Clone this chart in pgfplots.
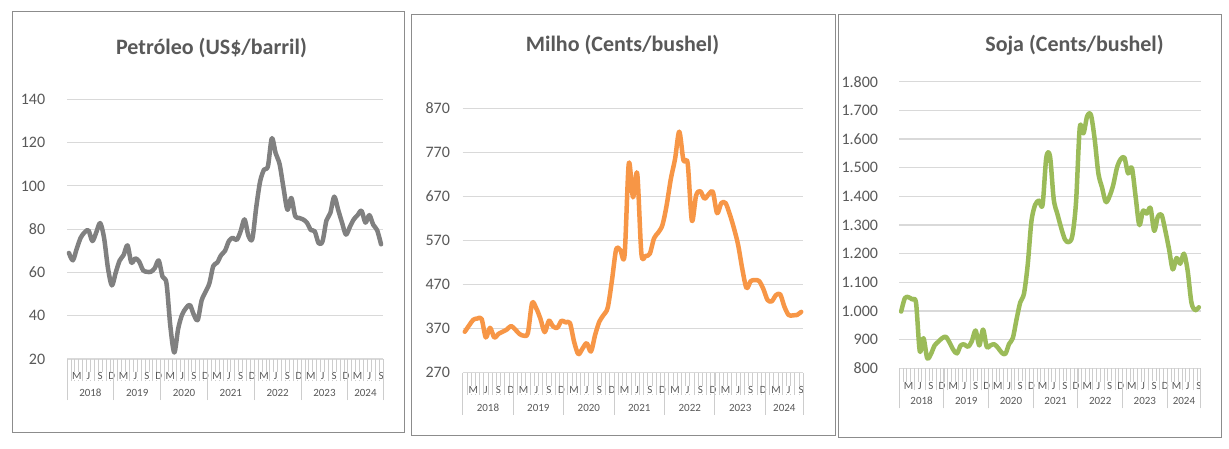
\documentclass[border=0pt]{standalone}
\usepackage{pgfplots}
\pgfplotsset{compat=1.18}
\usepackage{pgfplotstable}
\usepackage{fontspec}
\setmainfont{Carlito}
\definecolor{txt}{RGB}{89,89,89}
\definecolor{gridc}{RGB}{217,217,217}
\definecolor{catc}{RGB}{205,205,205}
\definecolor{oilc}{RGB}{128,128,128}
\definecolor{cornc}{RGB}{247,150,70}
\definecolor{soyc}{RGB}{155,187,89}
\definecolor{framec}{RGB}{140,140,140}

\pgfplotstableread{
i v
0 69
1 65.6
2 71
3 76
4 78.5
5 79.5
6 74.5
7 78.5
8 82.8
9 76
10 62
11 54
12 60
13 65.5
14 68
15 72.5
16 64.5
17 66.5
18 65
19 61
20 60.3
21 60.3
22 62
23 65.5
24 58
25 55
26 35
27 23
28 34
29 40.5
30 43.5
31 45
32 40.5
33 38
34 47
35 51
36 55
37 63
38 64.5
39 68
40 70
41 74.5
42 76
43 75
44 79
45 84.5
46 77
47 75.5
48 90
49 102
50 107.5
51 109
52 122
53 115
54 110
55 99
56 89
57 94.4
58 86
59 85.2
60 84.5
61 83
62 79.6
63 79
64 73.5
65 74.4
66 84
67 87.5
68 95
69 89
70 83
71 77.5
72 81
73 84.5
74 86.5
75 88.5
76 83
77 86.5
78 82
79 79.5
80 73
}\oiltab

\pgfplotstableread{
i v
0 363
1 377
2 390
3 393
4 392
5 350
6 372
7 350
8 358
9 363
10 368
11 376
12 368
13 358
14 354
15 360
16 428
17 416
18 392
19 362
20 388
21 375
22 372
23 388
24 384
25 383
26 340
27 312
28 325
29 337
30 318
31 356
32 386
33 401
34 418
35 480
36 550
37 548
38 537
39 745
40 668
41 722
42 540
43 535
44 540
45 575
46 588
47 605
48 650
49 710
50 755
51 817
52 752
53 745
54 615
55 672
56 682
57 665
58 675
59 680
60 632
61 655
62 655
63 630
64 598
65 560
66 505
67 462
68 478
69 480
70 478
71 460
72 435
73 432
74 446
75 448
76 420
77 401
78 400
79 401
80 408
}\corntab

\pgfplotstableread{
i v
0 998
1 1045
2 1048
3 1040
4 1028
5 860
6 905
7 835
8 850
9 880
10 893
11 905
12 910
13 890
14 865
15 852
16 880
17 883
18 875
19 895
20 932
21 880
22 935
23 875
24 880
25 884
26 872
27 855
28 850
29 885
30 905
31 970
32 1030
33 1060
34 1160
35 1312
36 1370
37 1385
38 1370
39 1535
40 1540
41 1390
42 1338
43 1290
44 1250
45 1240
46 1262
47 1380
48 1640
49 1620
50 1680
51 1684
52 1600
53 1480
54 1430
55 1380
56 1400
57 1440
58 1500
59 1530
60 1535
61 1480
62 1500
63 1400
64 1300
65 1350
66 1340
67 1360
68 1280
69 1330
70 1335
71 1280
72 1215
73 1145
74 1185
75 1165
76 1200
77 1140
78 1030
79 1003
80 1013
}\soytab

\tikzset{
  yl1/.style={text=txt, font=\fontsize{11}{12}\selectfont, yshift=-34pt},
  yl2/.style={text=txt, font=\fontsize{11}{12}\selectfont, yshift=-35.5pt},
  yl3/.style={text=txt, font=\fontsize{11}{12}\selectfont, yshift=-32.7pt},
  ttl/.style={text=txt, font=\fontsize{22}{24}\selectfont\bfseries},
}

\pgfplotsset{
  catax/.style={
    scale only axis,
    anchor=south west,
    xmin=-0.5, xmax=80.5,
    axis line style={draw=none},
    tick align=outside,
    tick pos=lower,
    ymajorgrids,
    major grid style={draw=gridc, line width=1.2pt},
    ytick style={draw=none},
    xtick={2,5,...,80},
    xticklabels={M,J,S,D,M,J,S,D,M,J,S,D,M,J,S,D,M,J,S,D,M,J,S,D,M,J,S},
    major x tick style={draw=none},
    minor xtick={-0.5,0.5,...,80.5},
    minor x tick style={draw=catc, line width=0.8pt},
    minor tick length=22pt,
    extra x ticks={-0.5,11.5,23.5,35.5,47.5,59.5,71.5,80.5},
    extra x tick labels={},
    extra x tick style={grid=none, tick pos=lower, major tick length=41pt, major x tick style={draw=catc, line width=1pt}},
    xticklabel style={font=\fontsize{11}{12}\selectfont, text=txt, anchor=center, yshift=-13pt, fill=white, inner sep=0.5pt},
    yticklabel style={font=\fontsize{16}{17}\selectfont, text=txt},
    /pgf/number format/assume math mode=true,
    scaled y ticks=false,
    clip=false,
  },
  serie/.style={line width=4.5pt, smooth, tension=0.5, line cap=round, line join=round, no markers},
}

\begin{document}
\begin{tikzpicture}[x=1pt,y=1pt]
\path[use as bounding box] (0,0) rectangle (1229,448);
\fill[white] (0,0) rectangle (1229,448);
% chart frames
\draw[framec, line width=1pt] (12,16) rectangle (404,436);
\draw[framec, line width=1pt] (411,13) rectangle (835,433);
\draw[framec, line width=1pt] (838,11) rectangle (1221,433);
% titles
\node[ttl] at (211.5,400.3) {Petróleo (US\$/barril)};
\node[ttl] at (622.5,403) {Milho (Cents/bushel)};
\node[ttl] at (1074.5,403) {Soja (Cents/bushel)};

% Panel 1
\begin{axis}[catax, at={(67pt,89pt)}, width=316pt, height=259.7pt,
  ymin=20, ymax=140, ytick={20,40,...,140},
  yticklabel style={xshift=-14pt}]
\addplot[serie, color=oilc] table[x=i, y=v] {\oiltab};
\node[yl1] at (axis cs:5.5,20) {2018};
\node[yl1] at (axis cs:17.5,20) {2019};
\node[yl1] at (axis cs:29.5,20) {2020};
\node[yl1] at (axis cs:41.5,20) {2021};
\node[yl1] at (axis cs:53.5,20) {2022};
\node[yl1] at (axis cs:65.5,20) {2023};
\node[yl1] at (axis cs:76,20) {2024};
\end{axis}

% Panel 2
\begin{axis}[catax, at={(462.7pt,75.3pt)}, width=340.6pt, height=264.4pt,
  ymin=270, ymax=870, ytick={270,370,...,870},
  yticklabel style={xshift=-5pt},
  extra x tick style={major tick length=42pt}]
\addplot[serie, color=cornc] table[x=i, y=v] {\corntab};
\node[yl2] at (axis cs:5.5,270) {2018};
\node[yl2] at (axis cs:17.5,270) {2019};
\node[yl2] at (axis cs:29.5,270) {2020};
\node[yl2] at (axis cs:41.5,270) {2021};
\node[yl2] at (axis cs:53.5,270) {2022};
\node[yl2] at (axis cs:65.5,270) {2023};
\node[yl2] at (axis cs:76,270) {2024};
\end{axis}

% Panel 3
\begin{axis}[catax, at={(899.3pt,79.7pt)}, width=301.4pt, height=286.6pt,
  ymin=800, ymax=1800, ytick={800,900,...,1800},
  yticklabel style={xshift=-13.5pt, /pgf/number format/.cd, 1000 sep={.}},
  extra x tick style={major tick length=40pt}]
\addplot[serie, color=soyc] table[x=i, y=v] {\soytab};
\node[yl3] at (axis cs:5.5,800) {2018};
\node[yl3] at (axis cs:17.5,800) {2019};
\node[yl3] at (axis cs:29.5,800) {2020};
\node[yl3] at (axis cs:41.5,800) {2021};
\node[yl3] at (axis cs:53.5,800) {2022};
\node[yl3] at (axis cs:65.5,800) {2023};
\node[yl3] at (axis cs:76,800) {2024};
\end{axis}
\end{tikzpicture}
\end{document}
